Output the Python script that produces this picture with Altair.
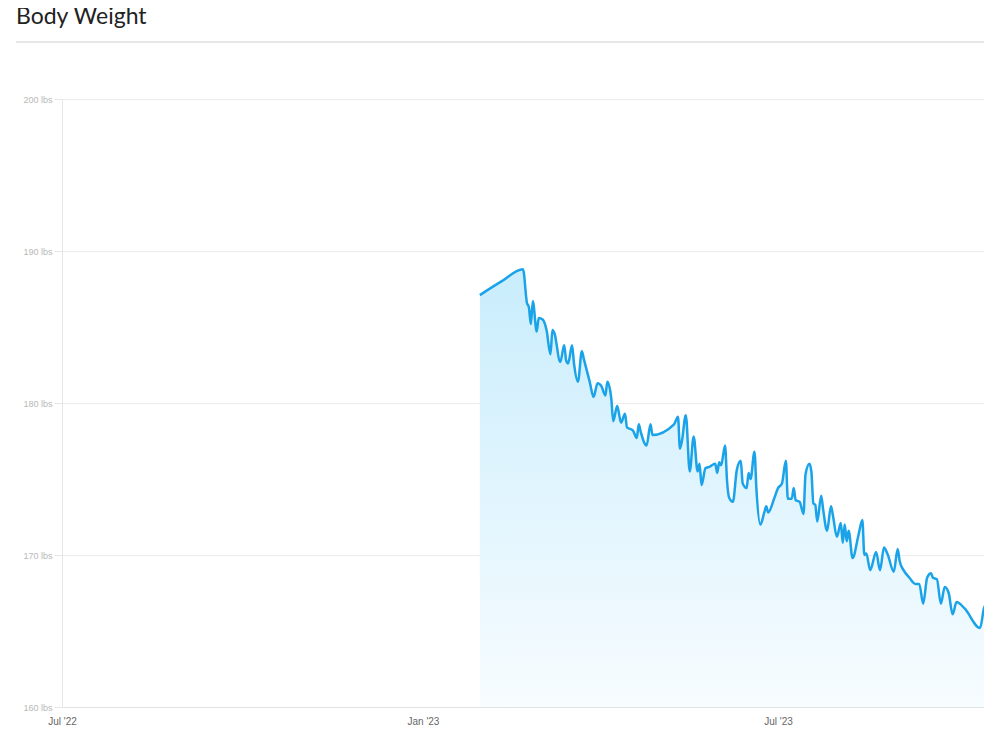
import altair as alt
import pandas as pd

# ---- data ----
dates = [
    "2023-01-30", "2023-02-10", "2023-02-21", "2023-02-23", "2023-02-24", "2023-02-25", "2023-02-26", "2023-02-28",
    "2023-03-01", "2023-03-03", "2023-03-05", "2023-03-07", "2023-03-08", "2023-03-09", "2023-03-12",
    "2023-03-14", "2023-03-15", "2023-03-16", "2023-03-18", "2023-03-19", "2023-03-21", "2023-03-23",
    "2023-03-24", "2023-03-27", "2023-03-29", "2023-03-31", "2023-04-02", "2023-04-04", "2023-04-05",
    "2023-04-07", "2023-04-08", "2023-04-10", "2023-04-12", "2023-04-14", "2023-04-15", "2023-04-18",
    "2023-04-20", "2023-04-21", "2023-04-22", "2023-04-25", "2023-04-27", "2023-04-28", "2023-05-09",
    "2023-05-11", "2023-05-12", "2023-05-13", "2023-05-15", "2023-05-17", "2023-05-19", "2023-05-21",
    "2023-05-22", "2023-05-23", "2023-05-25", "2023-05-27", "2023-05-30", "2023-05-31", "2023-06-01",
    "2023-06-02", "2023-06-04", "2023-06-05", "2023-06-06", "2023-06-08", "2023-06-10", "2023-06-12",
    "2023-06-13", "2023-06-15", "2023-06-16", "2023-06-17", "2023-06-19", "2023-06-20", "2023-06-22",
    "2023-06-24", "2023-06-25", "2023-06-26", "2023-06-29", "2023-07-01", "2023-07-03", "2023-07-05",
    "2023-07-06", "2023-07-08", "2023-07-09", "2023-07-10", "2023-07-12", "2023-07-14", "2023-07-15",
    "2023-07-17", "2023-07-18", "2023-07-19", "2023-07-20", "2023-07-21", "2023-07-23", "2023-07-24",
    "2023-07-26", "2023-07-28", "2023-07-29", "2023-07-31", "2023-08-02", "2023-08-03", "2023-08-04",
    "2023-08-05", "2023-08-06", "2023-08-08", "2023-08-11", "2023-08-13", "2023-08-14", "2023-08-15",
    "2023-08-17", "2023-08-20", "2023-08-22", "2023-08-24", "2023-08-26", "2023-08-29", "2023-08-31",
    "2023-09-01", "2023-09-03", "2023-09-06", "2023-09-09", "2023-09-11", "2023-09-13", "2023-09-15",
    "2023-09-17", "2023-09-18", "2023-09-20", "2023-09-22", "2023-09-24", "2023-09-26", "2023-09-28",
    "2023-09-30", "2023-10-04", "2023-10-12", "2023-10-14", "2023-10-16",
]
weights = [
    187.1, 188.0, 188.8, 186.6, 186.3, 185.2, 186.7, 184.7,
    185.6, 185.5, 184.8, 183.2, 184.8, 184.6, 182.7,
    183.8, 182.8, 182.6, 183.8, 182.6, 181.4, 183.4,
    182.9, 181.4, 180.4, 181.3, 181.1, 180.5, 181.4,
    180.3, 178.8, 179.8, 178.7, 179.3, 178.4, 178.2,
    177.7, 178.6, 178.1, 177.2, 178.6, 177.9, 178.6,
    179.1, 177.0, 177.5, 179.2, 175.5, 177.8, 175.5,
    176.0, 174.6, 175.7, 175.8, 176.0, 175.4, 176.1,
    175.9, 177.2, 174.9, 173.8, 173.5, 175.6, 176.2,
    174.7, 174.4, 175.4, 175.0, 176.8, 174.3, 172.0,
    172.8, 173.2, 172.8, 173.7, 174.4, 174.7, 176.2,
    173.7, 173.7, 174.4, 173.6, 173.5, 172.7, 175.3,
    176.0, 175.5, 173.4, 173.3, 172.2, 173.9, 173.0,
    171.6, 173.2, 172.6, 171.2, 172.1, 170.8, 172.0,
    170.9, 171.6, 169.8, 171.3, 172.3, 170.0, 170.1,
    169.0, 170.2, 169.0, 170.5, 170.0, 168.9, 170.4,
    169.6, 169.0, 168.5, 168.1, 168.1, 166.8, 168.5,
    168.8, 168.5, 168.4, 166.8, 167.9, 167.5, 166.1,
    166.9, 166.5, 165.2, 166.5, 166.9,
]
assert len(dates) == len(weights)

y_ticks = [160, 170, 180, 190, 200]
x_ticks = [(2022, 7, 1), (2023, 1, 1), (2023, 7, 1)]
x_domain = [(2022, 7, 1), (2023, 10, 14)]
title_text = ["Body Weight"]

df = pd.DataFrame({"date": [d + "T00:00:00" for d in dates], "weight": weights})

W, H = 922, 608
LINE = "#1aa3e8"

x_enc = alt.X(
    "date:T",
    scale=alt.Scale(domain=[alt.DateTime(year=y, month=m, date=d) for y, m, d in x_domain]),
    axis=alt.Axis(
        title=None,
        values=[alt.DateTime(year=y, month=m, date=d) for y, m, d in x_ticks],
        format="%b '%y",
        grid=False,
        ticks=False,
        tickSize=0,
        domain=True,
        domainColor="#e2e2e2",
        labelColor="#666666",
        labelFontSize=10,
        labelFont="Liberation Sans",
        labelPadding=9,
        labelFlush=False,
    ),
)
y_enc = alt.Y(
    "weight:Q",
    scale=alt.Scale(domain=[160, 200], zero=False, nice=False),
    axis=alt.Axis(
        title=None,
        values=y_ticks,
        labelExpr="datum.value + ' lbs'",
        grid=True,
        gridColor="#ececec",
        ticks=True,
        tickSize=8,
        tickColor="#e6e6e6",
        domain=True,
        domainColor="#e6e6e6",
        labelColor="#b8b8b8",
        labelFontSize=9,
        labelFont="Liberation Sans",
        labelPadding=2,
    ),
)

base = alt.Chart(df)

area = base.mark_area(
    clip=True,
    interpolate="monotone",
    color=alt.Gradient(
        gradient="linear",
        stops=[
            alt.GradientStop(color="#c9edfc", offset=0),
            alt.GradientStop(color="#f7fcff", offset=1),
        ],
        x1=1, x2=1, y1=0, y2=1,
    ),
).encode(x=x_enc, y=y_enc, y2=alt.datum(160))

line = base.mark_line(
    clip=True, interpolate="monotone", color=LINE, strokeWidth=2.5
).encode(x=x_enc, y=y_enc)

deco = alt.Chart(pd.DataFrame({"t": title_text}))

sep = deco.mark_rule(color="#cfcfcf", strokeWidth=1).encode(
    x=alt.value(-46), x2=alt.value(W), y=alt.value(-57)
)

title = deco.mark_text(
    align="left", baseline="alphabetic", fontSize=23, font="Lato",
    fontWeight="normal", color="#222222",
).encode(text="t:N", x=alt.value(-46), y=alt.value(-75))

chart = (
    alt.layer(area, line, sep, title)
    .properties(
        width=W,
        height=H,
        padding={"left": 54, "top": 91, "right": 0, "bottom": 23},
        autosize=alt.AutoSizeParams(type="none"),
        background="white",
    )
    .configure_view(stroke=None)
)

chart.save("out.html", embed_options={"renderer": "svg", "actions": False})
